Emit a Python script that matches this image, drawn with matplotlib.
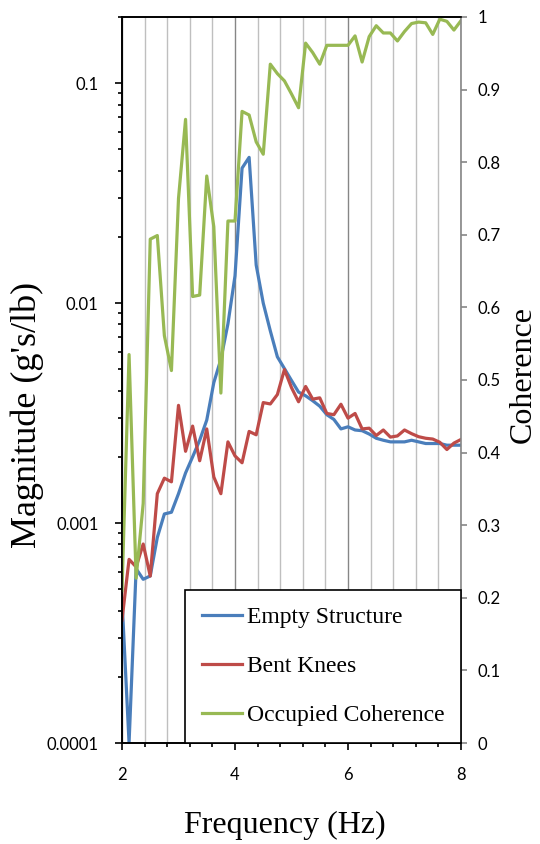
import matplotlib
matplotlib.use("Agg")
import matplotlib.pyplot as plt
from matplotlib.ticker import FixedLocator, FuncFormatter, LogLocator, NullFormatter

# frequency axis (Hz)
freq = [2.0, 2.125, 2.25, 2.375, 2.5, 2.625, 2.75, 2.875,
        3.0, 3.125, 3.25, 3.375, 3.5, 3.625, 3.75, 3.875,
        4.0, 4.125, 4.25, 4.375, 4.5, 4.625, 4.75, 4.875,
        5.0, 5.125, 5.25, 5.375, 5.5, 5.625, 5.75, 5.875,
        6.0, 6.125, 6.25, 6.375, 6.5, 6.625, 6.75, 6.875,
        7.0, 7.125, 7.25, 7.375, 7.5, 7.625, 7.75, 7.875, 8.0]

# magnitude (g's/lb)
empty = [4.5e-4, 1.0e-4, 6.2e-4, 5.55e-4, 5.75e-4, 8.6e-4, 1.10e-3, 1.12e-3,
         1.36e-3, 1.69e-3, 2.0e-3, 2.38e-3, 2.94e-3, 4.35e-3, 5.56e-3, 8.05e-3,
         1.33e-2, 4.11e-2, 4.6e-2, 1.49e-2, 1.0e-2, 7.48e-3, 5.70e-3, 5.04e-3,
         4.45e-3, 3.94e-3, 3.79e-3, 3.60e-3, 3.40e-3, 3.11e-3, 2.96e-3, 2.68e-3,
         2.74e-3, 2.65e-3, 2.63e-3, 2.54e-3, 2.43e-3, 2.38e-3, 2.34e-3, 2.34e-3,
         2.34e-3, 2.38e-3, 2.34e-3, 2.30e-3, 2.30e-3, 2.30e-3, 2.26e-3, 2.26e-3, 2.26e-3]

bent = [3.62e-4, 6.84e-4, 6.32e-4, 8.03e-4, 5.74e-4, 1.36e-3, 1.60e-3, 1.54e-3,
        3.43e-3, 2.12e-3, 2.76e-3, 1.92e-3, 2.68e-3, 1.62e-3, 1.36e-3, 2.34e-3,
        2.02e-3, 1.88e-3, 2.61e-3, 2.52e-3, 3.53e-3, 3.48e-3, 3.84e-3, 4.99e-3,
        4.13e-3, 3.56e-3, 4.18e-3, 3.66e-3, 3.71e-3, 3.15e-3, 3.11e-3, 3.47e-3,
        3.00e-3, 3.15e-3, 2.68e-3, 2.70e-3, 2.50e-3, 2.65e-3, 2.46e-3, 2.49e-3,
        2.65e-3, 2.55e-3, 2.47e-3, 2.43e-3, 2.41e-3, 2.33e-3, 2.16e-3, 2.31e-3, 2.40e-3]

# coherence (right axis)
coh = [0.21, 0.535, 0.227, 0.33, 0.694, 0.699, 0.561, 0.513,
       0.750, 0.859, 0.615, 0.617, 0.781, 0.711, 0.482, 0.719,
       0.719, 0.870, 0.865, 0.828, 0.811, 0.935, 0.922, 0.912,
       0.894, 0.875, 0.964, 0.951, 0.935, 0.961, 0.961, 0.961,
       0.961, 0.974, 0.938, 0.973, 0.988, 0.978, 0.978, 0.967,
       0.980, 0.991, 0.993, 0.992, 0.976, 0.997, 0.994, 0.982, 0.995]

labels = ["Empty Structure", "Bent Knees", "Occupied Coherence"]
colors = ["#4A7EBB", "#BE4B48", "#98B954"]

serif = "Liberation Serif"
sans = "Lato"

fig = plt.figure(figsize=(5.4, 8.44), dpi=100)
ax = fig.add_axes([122 / 540, 1 - 743 / 844, (461 - 122) / 540, (743 - 17) / 844])
ax2 = ax.twinx()

l1, = ax.plot(freq, empty, color=colors[0], lw=2.3, label=labels[0])
l2, = ax.plot(freq, bent, color=colors[1], lw=2.3, label=labels[1])
l3, = ax2.plot(freq, coh, color=colors[2], lw=2.3, label=labels[2])

# x axis
ax.set_xlim(2, 8)
ax.xaxis.set_major_locator(FixedLocator([2, 4, 6, 8]))
ax.xaxis.set_minor_locator(FixedLocator([2.4, 2.8, 3.2, 3.6, 4.4, 4.8, 5.2, 5.6,
                                         6.4, 6.8, 7.2, 7.6]))
ax.grid(which="minor", axis="x", color="#BFBFBF", lw=1)
ax.grid(which="major", axis="x", color="#868686", lw=1)
ax.set_axisbelow(True)

# left log axis
ax.set_yscale("log")
ax.set_ylim(1e-4, 0.2)
ax.yaxis.set_major_locator(FixedLocator([1e-4, 1e-3, 1e-2, 1e-1]))
ax.yaxis.set_minor_locator(LogLocator(base=10, subs=range(2, 10)))
ax.yaxis.set_minor_formatter(NullFormatter())
ax.yaxis.set_major_formatter(FuncFormatter(lambda v, p: "{:g}".format(v)))

# right axis
ax2.set_ylim(0, 1)
ax2.yaxis.set_major_locator(FixedLocator([0, 0.1, 0.2, 0.3, 0.4, 0.5, 0.6, 0.7, 0.8, 0.9, 1.0]))
ax2.yaxis.set_major_formatter(FuncFormatter(lambda v, p: "{:g}".format(round(v, 1))))

ax.spines["right"].set_visible(False)
for a in (ax, ax2):
    for s in a.spines.values():
        s.set_linewidth(1.2)
        s.set_color("black")
ax2.spines["right"].set_color("#868686")

ax.tick_params(axis="x", which="major", direction="out", length=5, width=1.2,
               labelsize=12, pad=12, color="black")
ax.tick_params(axis="x", which="minor", direction="out", length=3, width=1.2, color="black")
ax.tick_params(axis="y", which="major", direction="out", length=5, width=1.2,
               labelsize=12, pad=12, color="black")
ax.tick_params(axis="y", which="minor", direction="out", length=3, width=1.2, color="black")
ax2.tick_params(axis="y", which="major", direction="out", length=4, width=1.2,
                labelsize=12, pad=8, color="#868686")
for t in ax.get_xticklabels() + ax.get_yticklabels() + ax2.get_yticklabels():
    t.set_fontfamily(sans)

ax.set_xlabel("Frequency (Hz)", fontfamily=serif, fontsize=23, va="center")
ax.xaxis.set_label_coords(0.48, -0.113)
ax.set_ylabel("Magnitude (g's/lb)", fontfamily=serif, fontsize=26, va="center")
ax.yaxis.set_label_coords(-0.28, 0.452)
ax2.set_ylabel("Coherence", fontfamily=serif, fontsize=23, va="center")
ax2.yaxis.set_label_coords(1.183, 0.507)

leg = ax2.legend(handles=[l1, l2, l3], loc="lower right", bbox_to_anchor=(1, 0),
                 borderaxespad=0, frameon=True, fancybox=False, framealpha=1,
                 edgecolor="black", prop={"family": serif, "size": 17},
                 handlelength=1.7, handletextpad=0.2, labelspacing=1.17,
                 borderpad=0.7)
leg.get_frame().set_linewidth(1.2)

fig.savefig("out.png", dpi=100)
